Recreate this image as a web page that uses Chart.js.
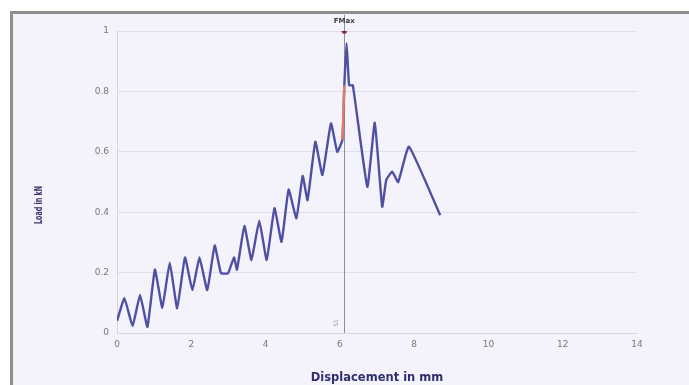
<!DOCTYPE html>
<html>
<head>
<meta charset="utf-8">
<script src="https://cdn.jsdelivr.net/npm/chart.js@4.4.1/dist/chart.umd.min.js"></script>
<style>
  html, body { margin: 0; padding: 0; background: #ffffff; }
  #wrap { position: relative; width: 689px; height: 385px; }
</style>
</head>
<body>
<div id="wrap"><canvas id="c" width="689" height="385"></canvas></div>
<script>
// Load–displacement record of the test
const displacement = [0.0, 0.2, 0.42, 0.62, 0.82, 1.02, 1.22, 1.42, 1.62, 1.83, 2.03, 2.22, 2.43, 2.63, 2.8, 2.99,
  3.15, 3.23, 3.43, 3.62, 3.83, 4.03, 4.24, 4.43, 4.62, 4.83, 5.0, 5.13, 5.34, 5.53, 5.76, 5.93,
  6.07, 6.12, 6.18, 6.25, 6.35, 6.74, 6.94, 7.14, 7.25, 7.41, 7.57, 7.86, 8.7];
const load = [0.04, 0.115, 0.023, 0.126, 0.02, 0.21, 0.084, 0.233, 0.082, 0.25, 0.142, 0.25, 0.142, 0.29, 0.198, 0.198,
  0.25, 0.21, 0.354, 0.242, 0.372, 0.242, 0.413, 0.302, 0.475, 0.38, 0.52, 0.44, 0.633, 0.523, 0.694, 0.6,
  0.64, 0.82, 0.96, 0.82, 0.82, 0.484, 0.696, 0.418, 0.507, 0.534, 0.5, 0.617, 0.39];

// highlighted rise just before the maximum
const riseX = [6.07, 6.12];
const riseY = [0.64, 0.82];

// maximum-force marker
const fmaxX = 6.12;
const fmaxY = 1.0;
const fmaxLabel = 'FMax';
const markerLabel = 'S1';

const xTicks = [0, 2, 4, 6, 8, 10, 12, 14];
const yTicks = [0, 0.2, 0.4, 0.6, 0.8, 1];

const xTitle = 'Displacement in mm';
const yTitle = 'Load in kN';

const toPoints = (xs, ys) => xs.map((x, i) => ({ x: x, y: ys[i] }));

// panel background and frame
const framePlugin = {
  id: 'frame',
  beforeDraw(chart) {
    const ctx = chart.ctx;
    ctx.save();
    ctx.fillStyle = '#ffffff';
    ctx.fillRect(0, 0, chart.width, chart.height);
    ctx.fillStyle = '#f4f3fc';
    ctx.fillRect(12, 13, chart.width - 12, chart.height - 13);
    ctx.strokeStyle = '#8e8e8e';
    ctx.lineWidth = 3;
    ctx.beginPath();
    ctx.moveTo(11.5, chart.height);
    ctx.lineTo(11.5, 12.5);
    ctx.lineTo(chart.width, 12.5);
    ctx.stroke();
    ctx.restore();
  }
};

// vertical marker line at the maximum, with labels
const markerPlugin = {
  id: 'marker',
  beforeDatasetsDraw(chart) {
    const ctx = chart.ctx;
    const xs = chart.scales.x, ys = chart.scales.y;
    const px = Math.round(xs.getPixelForValue(fmaxX)) + 0.5;
    ctx.save();
    ctx.strokeStyle = '#8e8e98';
    ctx.lineWidth = 1;
    ctx.beginPath();
    ctx.moveTo(px, ys.getPixelForValue(0));
    ctx.lineTo(px, 15);
    ctx.stroke();
    ctx.restore();
  },
  afterDatasetsDraw(chart) {
    const ctx = chart.ctx;
    const xs = chart.scales.x, ys = chart.scales.y;
    const px = xs.getPixelForValue(fmaxX);
    ctx.save();
    ctx.fillStyle = '#3a3a4a';
    ctx.font = 'bold 7px "DejaVu Sans"';
    ctx.textAlign = 'center';
    ctx.textBaseline = 'middle';
    ctx.fillText(fmaxLabel, px, ys.getPixelForValue(fmaxY) - 10);
    // small rotated label at the foot of the line
    ctx.translate(px - 8, ys.getPixelForValue(0) - 10);
    ctx.rotate(-Math.PI / 2);
    ctx.fillStyle = '#9a9aa6';
    ctx.font = '6px "DejaVu Sans"';
    ctx.fillText(markerLabel, 0, 0);
    ctx.restore();
  }
};

// y-axis title, drawn narrow
const yTitlePlugin = {
  id: 'ytitle',
  afterDraw(chart) {
    const ctx = chart.ctx;
    ctx.save();
    ctx.translate(39, 205);
    ctx.rotate(-Math.PI / 2);
    ctx.font = 'bold 10px "DejaVu Sans"';
    const w = ctx.measureText(yTitle).width;
    ctx.scale(38 / w, 1);
    ctx.fillStyle = '#33336e';
    ctx.textAlign = 'center';
    ctx.textBaseline = 'middle';
    ctx.fillText(yTitle, 0, 0);
    ctx.restore();
  }
};

new Chart(document.getElementById('c'), {
  type: 'line',
  data: {
    datasets: [
      {
        data: toPoints(riseX, riseY),
        borderColor: '#e27a6a',
        borderWidth: 2.4,
        pointRadius: 0,
        tension: 0,
        order: 0
      },
      {
        data: [{ x: fmaxX, y: fmaxY }],
        showLine: false,
        pointRadius: 2.5,
        pointBackgroundColor: '#5a2a4a',
        pointBorderColor: '#c04a4a',
        pointBorderWidth: 1,
        order: 0
      },
      {
        data: toPoints(displacement, load),
        borderColor: '#5050a2',
        borderWidth: 2.4,
        pointRadius: 0,
        tension: 0.12,
        order: 1
      }
    ]
  },
  options: {
    responsive: false,
    animation: false,
    events: [],
    layout: { padding: { left: 0, right: 52, top: 31, bottom: 0 } },
    plugins: { legend: { display: false }, tooltip: { enabled: false } },
    scales: {
      x: {
        type: 'linear',
        min: 0,
        max: 14,
        afterBuildTicks(s) { s.ticks = xTicks.map(v => ({ value: v })); },
        afterFit(s) { s.height = 52; },
        grid: { display: false, drawTicks: false },
        border: { display: true, color: '#d6d6e2', width: 1 },
        ticks: {
          color: '#777780',
          font: { family: 'DejaVu Sans', size: 9 },
          padding: 6,
          maxRotation: 0,
          callback: v => String(v)
        },
        title: {
          display: true,
          text: xTitle,
          color: '#2e2e6e',
          font: { family: 'DejaVu Sans', size: 11.5, weight: 'bold' },
          padding: { top: 13, bottom: 0 }
        }
      },
      y: {
        min: 0,
        max: 1,
        afterBuildTicks(s) { s.ticks = yTicks.map(v => ({ value: v })); },
        afterFit(s) { s.width = 117; },
        grid: { color: '#dfdfea', lineWidth: 1, drawTicks: false },
        border: { display: true, color: '#d6d6e2', width: 1 },
        ticks: {
          color: '#777780',
          font: { family: 'DejaVu Sans', size: 9 },
          padding: 8,
          callback: v => String(v)
        }
      }
    }
  },
  plugins: [framePlugin, markerPlugin, yTitlePlugin]
});
</script>
</body>
</html>
